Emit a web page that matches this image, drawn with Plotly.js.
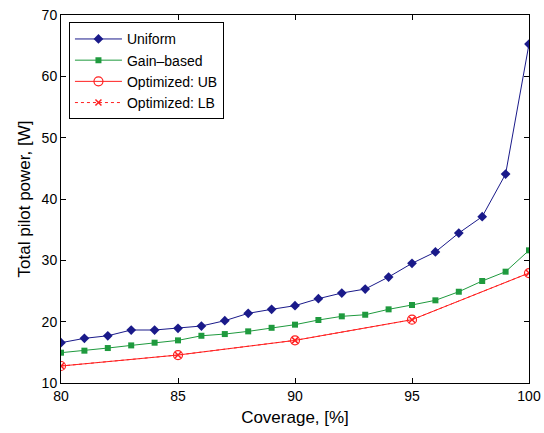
<!DOCTYPE html>
<html>
<head>
<meta charset="utf-8">
<script src="https://cdn.plot.ly/plotly-3.0.1.min.js"></script>
<style>html,body{margin:0;padding:0;background:#fff;}#chart{width:544px;height:433px;}</style>
</head>
<body>
<div id="chart"></div>
<script>
const coverage = [80,81,82,83,84,85,86,87,88,89,90,91,92,93,94,95,96,97,98,99,100];
const uniform = [16.57,17.28,17.7,18.64,18.64,18.91,19.29,20.16,21.36,22.01,22.61,23.75,24.67,25.32,27.28,29.51,31.36,34.45,37.12,44.07,65.27];
const gainBased = [14.94,15.27,15.7,16.13,16.57,16.95,17.7,17.98,18.42,19.0,19.51,20.27,20.87,21.13,22.01,22.72,23.48,24.88,26.63,28.15,31.63];
const optCoverage = [80,85,90,95,100];
const optUB = [12.77,14.56,16.95,20.32,27.93];
const optLB = [12.77,14.56,16.95,20.32,27.93];
const xTicks = [80,85,90,95,100];
const yTicks = [10,20,30,40,50,60,70];

const traces = [
  {x: coverage, y: uniform, name: 'Uniform', mode: 'lines+markers',
   line: {color: '#1a1a8a', width: 1}, marker: {symbol: 'diamond', size: 7.5, color: '#1a1a8a'}},
  {x: coverage, y: gainBased, name: 'Gain\u2013based', mode: 'lines+markers',
   line: {color: '#1f9a3e', width: 1}, marker: {symbol: 'square', size: 6, color: '#1f9a3e'}},
  {x: optCoverage, y: optUB, name: 'Optimized: UB', mode: 'lines+markers',
   line: {color: '#ff2020', width: 1}, marker: {symbol: 'circle-open', size: 9, color: '#ff2020', line: {width: 1.2}}},
  {x: optCoverage, y: optLB, name: 'Optimized: LB', mode: 'lines+markers',
   line: {color: '#ff2020', width: 1, dash: 'dot'}, marker: {symbol: 'x-thin-open', size: 6, color: '#ff2020', line: {width: 1.5, color: '#ff2020'}}}
];

const axisCommon = {
  showgrid: false, zeroline: false, showline: true, linecolor: '#000', linewidth: 1,
  mirror: 'ticks', ticks: 'inside', ticklen: 5, tickcolor: '#000',
  tickfont: {family: 'Liberation Sans, Arial, sans-serif', size: 14, color: '#000'}
};

const layout = {
  width: 544, height: 433,
  margin: {l: 61, r: 15, t: 15, b: 50},
  paper_bgcolor: '#fff', plot_bgcolor: '#fff',
  font: {family: 'Liberation Sans, Arial, sans-serif', size: 14, color: '#000'},
  showlegend: true,
  legend: {x: 0.017, y: 0.98, xanchor: 'left', yanchor: 'top', bordercolor: '#000', borderwidth: 1,
           bgcolor: '#fff', font: {size: 14}, tracegroupgap: 0, itemwidth: 47},
  xaxis: Object.assign({}, axisCommon, {range: [80, 100], tickvals: xTicks,
    title: {text: 'Coverage, [%]', font: {size: 17}, standoff: 8}}),
  yaxis: Object.assign({}, axisCommon, {range: [10, 70], tickvals: yTicks,
    title: {text: 'Total pilot power, [W]', font: {size: 17}, standoff: 6}})
};

Plotly.newPlot('chart', traces, layout, {displayModeBar: false, staticPlot: true});
</script>
</body>
</html>
